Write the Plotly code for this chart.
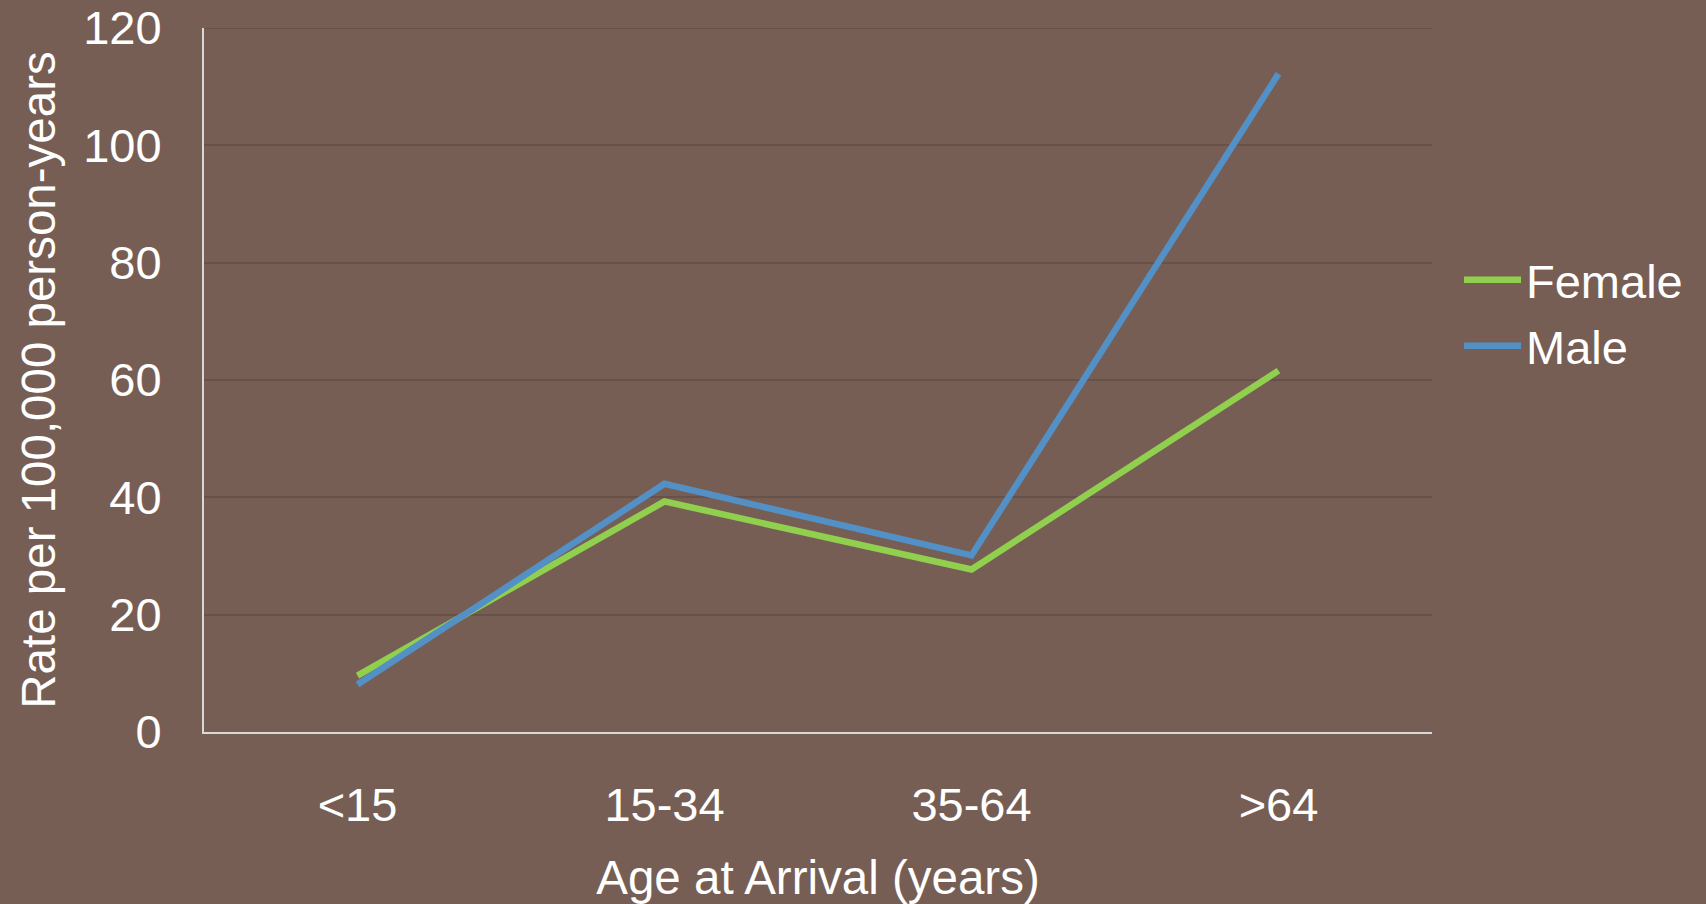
import plotly.graph_objects as go

# Incidence rate by age at arrival, per sex
age_groups = ["<15", "15-34", "35-64", ">64"]
female_rate = [9.6, 39.3, 27.7, 61.6]
male_rate = [8.1, 42.3, 30.1, 112.2]
y_ticks = [0, 20, 40, 60, 80, 100, 120]

BG = "#765E54"
GRID = "#67524A"
AXIS = "#D9D9D9"
FONT = "Liberation Sans, Arial, sans-serif"

fig = go.Figure()
fig.add_trace(go.Scatter(
    x=age_groups, y=female_rate, name="Female", mode="lines",
    line=dict(color="#90D04E", width=6.5), legendgroup="f",
))
fig.add_trace(go.Scatter(
    x=age_groups, y=male_rate, name="Male", mode="lines",
    line=dict(color="#5290C6", width=6.5), legendgroup="m",
))

# gridline at the top of the value range (plotly skips it at the plot edge)
fig.add_shape(
    type="line", xref="paper", yref="y",
    x0=0, x1=1, y0=y_ticks[-1], y1=y_ticks[-1],
    line=dict(color=GRID, width=2), layer="below",
)

fig.update_layout(
    width=1706, height=904,
    paper_bgcolor=BG, plot_bgcolor=BG,
    margin=dict(l=204, r=274, t=28, b=172),
    font=dict(family=FONT, color="white", size=47),
    showlegend=True,
    legend=dict(
        x=1.022, xanchor="left", y=0.595, yanchor="middle",
        font=dict(size=47, color="white"),
        bgcolor="rgba(0,0,0,0)",
        traceorder="grouped", tracegroupgap=2,
        itemwidth=57,
    ),
    xaxis=dict(
        type="category", range=[-0.5, 3.5],
        showgrid=False, zeroline=False, automargin=False,
        showline=True, linecolor=AXIS, linewidth=2,
        ticks="", tickfont=dict(size=47, color="white"),
        ticklabelstandoff=31,
        title=dict(text="Age at Arrival (years)", font=dict(size=47.5, color="white"), standoff=30),
    ),
    yaxis=dict(
        range=[0, 120], tickvals=y_ticks,
        showgrid=True, gridcolor=GRID, gridwidth=2,
        zeroline=False, automargin=False,
        showline=True, linecolor=AXIS, linewidth=2,
        ticks="", tickfont=dict(size=47, color="white"),
        ticklabelstandoff=31,
        title=dict(text="Rate per 100,000 person-years", font=dict(size=47.5, color="white"), standoff=13),
    ),
)

fig.write_html("out.html")
